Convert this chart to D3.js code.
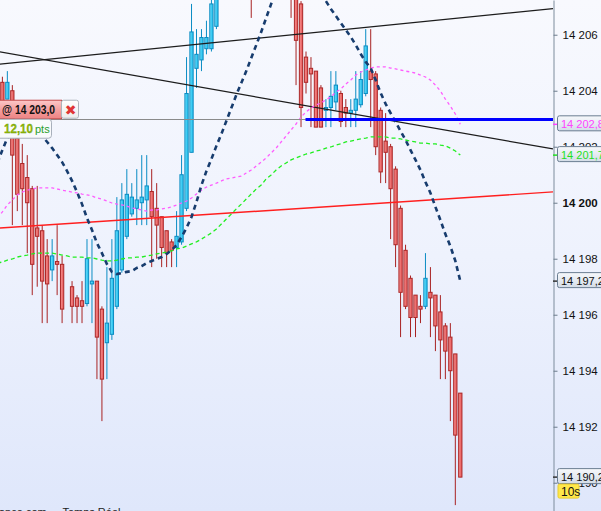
<!DOCTYPE html>
<html lang="fr">
<head>
<meta charset="utf-8">
<title>Graphique 10s</title>
<script src="https://cdn.jsdelivr.net/npm/d3@7"></script>
<style>
  body { margin: 0; overflow: hidden; }
  svg { display: block; font-family: "Liberation Sans", Arial, sans-serif; }
</style>
</head>
<body>
<script>
// Graduations de l'axe des prix
const graduations = [14190, 14192, 14194, 14196, 14198, 14200, 14202, 14204, 14206];

// Bougies 10s (null = pas de bougie)
const ouverture = [14204.7, 14204.3, 14203.7, 14204.0, 14202.3, 14201.4, 14200.9, 14200.5, 14199.1, 14199.0,
  14198.1, 14197.6, 14197.9, 14197.8, null, 14197.0, 14196.6, 14196.5, 14196.4, 14197.1,
  14197.2, 14196.2, 14195.0, 14195.3, 14196.3, 14197.6, 14198.8, 14199.6, 14199.8, 14200.0,
  14200.1, 14200.4, 14199.8, 14199.5, 14199.0, 14198.6, 14198.4, 14198.6, 14199.8, 14201.8,
  14204.8, 14205.1, 14205.5, 14205.5, 14206.3, 14207.4, 14208.4, 14209.2, 14208.8, 14209.9,
  14210.6, 14209.3, 14208.0, 14209.4, 14210.5, 14209.9, 14211.0, 14210.1, 14208.9, 14208.3,
  14207.5, 14207.1, 14205.2, 14204.8, 14204.7, 14204.1, 14203.3, 14203.4, 14203.6, 14203.9,
  14203.4, 14203.2, 14203.3, 14203.5, 14203.9, 14204.7, 14204.6, 14203.3, 14202.2, 14202.0,
  14201.2, 14199.8, 14198.3, 14197.3, 14196.7, 14196.3, 14196.3, 14196.8, 14196.7, 14196.1,
  14195.6, 14195.2, 14194.6, 14193.2];
const plusHaut = [14204.9, 14204.5, 14204.7, 14204.2, 14202.6, 14202.1, 14201.7, 14200.6, 14200.6, 14199.2,
  14198.7, 14198.7, 14199.2, 14198.1, null, 14197.2, 14196.7, 14197.2, 14198.7, 14198.7,
  14197.2, 14196.3, 14197.7, 14198.7, 14200.2, 14200.7, 14201.2, 14200.7, 14201.2, 14201.7,
  14201.7, 14201.2, 14200.7, 14199.5, 14199.0, 14198.7, 14199.7, 14201.7, 14205.2, 14207.1,
  14206.2, 14206.2, 14206.5, 14207.4, 14207.6, 14208.6, 14209.5, 14209.8, 14210.2, 14210.9,
  14211.0, 14209.7, 14209.6, 14210.8, 14211.2, 14211.3, 14211.4, 14210.5, 14209.3, 14208.6,
  14207.8, 14207.2, 14205.4, 14205.2, 14204.7, 14204.2, 14203.7, 14204.7, 14204.7, 14204.0,
  14203.7, 14203.7, 14204.7, 14204.7, 14206.2, 14206.2, 14204.7, 14203.4, 14203.2, 14202.1,
  14201.3, 14199.9, 14198.5, 14197.4, 14196.7, 14196.7, 14198.2, 14197.7, 14196.7, 14196.7,
  14195.7, 14195.7, 14194.6, 14193.2];
const plusBas = [14203.7, 14202.8, 14203.7, 14199.2, 14199.7, 14199.2, 14198.2, 14196.7, 14197.0, 14195.7,
  14195.7, 14197.2, 14196.7, 14195.7, null, 14195.7, 14195.7, 14195.7, 14196.3, 14195.7,
  14193.7, 14192.2, 14193.7, 14195.1, 14196.2, 14197.5, 14198.7, 14199.5, 14199.2, 14199.2,
  14199.2, 14197.7, 14198.0, 14197.7, 14197.7, 14197.7, 14197.7, 14198.5, 14199.7, 14201.8,
  14204.1, 14204.7, 14205.3, 14205.4, 14206.2, 14207.3, 14208.1, 14208.5, 14208.6, 14209.5,
  14208.9, 14206.6, 14207.8, 14209.1, 14209.6, 14209.7, 14209.8, 14208.6, 14207.9, 14206.6,
  14204.2, 14202.7, 14203.9, 14202.7, 14202.7, 14202.7, 14202.7, 14202.7, 14203.3, 14202.7,
  14202.7, 14202.7, 14202.7, 14203.4, 14203.8, 14202.7, 14201.7, 14200.7, 14200.7, 14198.7,
  14197.7, 14195.2, 14196.2, 14195.2, 14195.2, 14195.7, 14196.2, 14195.2, 14194.7, 14193.7,
  14193.7, 14192.2, 14189.2, 14190.2];
const cloture = [14204.0, 14203.0, 14204.3, 14201.7, 14200.3, 14200.5, 14200.0, 14197.8, 14198.8, 14197.2,
  14197.1, 14198.1, 14197.8, 14196.2, null, 14196.3, 14196.3, 14196.3, 14198.0, 14197.2,
  14195.2, 14193.7, 14195.7, 14197.3, 14199.0, 14200.1, 14200.3, 14200.2, 14200.1, 14200.2,
  14200.6, 14199.5, 14199.2, 14198.4, 14198.2, 14198.3, 14198.8, 14201.0, 14203.9, 14206.1,
  14205.3, 14205.9, 14205.9, 14207.1, 14207.4, 14208.4, 14209.2, 14208.8, 14209.9, 14210.6,
  14209.3, 14208.0, 14209.4, 14210.5, 14209.9, 14211.0, 14210.1, 14208.9, 14208.3, 14207.5,
  14205.8, 14203.4, 14204.3, 14204.6, 14202.7, 14202.7, 14203.4, 14203.8, 14204.2, 14202.9,
  14203.2, 14203.3, 14203.7, 14204.4, 14205.6, 14204.4, 14202.0, 14201.1, 14201.8, 14200.5,
  14198.5, 14196.8, 14196.3, 14195.9, 14195.9, 14196.2, 14197.3, 14196.6, 14195.6, 14195.1,
  14194.7, 14194.0, 14191.7, 14190.2];

// Moyennes mobiles
const mmBleue = [14201.42, 14201.88, 14202.31, 14202.63, 14202.81, 14202.92, 14202.88, 14202.78, 14202.60, 14202.38,
  14202.17, 14201.95, 14201.70, 14201.45, 14201.13, 14200.78, 14200.38, 14199.95, 14199.45, 14199.03,
  14198.56, 14198.20, 14197.81, 14197.53, 14197.45, 14197.49, 14197.53, 14197.56, 14197.67, 14197.74,
  14197.85, 14197.92, 14197.99, 14198.06, 14198.17, 14198.31, 14198.49, 14198.78, 14199.10, 14199.49,
  14200.03, 14200.63, 14201.13, 14201.56, 14202.03, 14202.45, 14202.92, 14203.38, 14203.85, 14204.28,
  14204.70, 14205.17, 14205.63, 14206.10, 14206.60, 14207.10, 14207.53, 14207.88, 14208.17, 14208.35,
  14208.45, 14208.45, 14208.35, 14208.17, 14207.88, 14207.53, 14207.20, 14206.92, 14206.67, 14206.42,
  14206.17, 14205.92, 14205.63, 14205.31, 14205.03, 14204.81, 14204.38, 14203.92, 14203.53, 14203.20,
  14202.88, 14202.56, 14202.24, 14201.88, 14201.53, 14201.17, 14200.74, 14200.35, 14199.85, 14199.38,
  14198.88, 14198.45, 14197.92, 14197.20];
const mmRose = [14199.45, 14199.67, 14199.92, 14200.10, 14200.28, 14200.38, 14200.45, 14200.49, 14200.53, 14200.53,
  14200.53, 14200.53, 14200.49, 14200.45, 14200.42, 14200.38, 14200.35, 14200.31, 14200.28, 14200.24,
  14200.17, 14200.13, 14200.06, 14199.99, 14199.95, 14199.92, 14199.88, 14199.81, 14199.78, 14199.74,
  14199.70, 14199.74, 14199.74, 14199.78, 14199.81, 14199.85, 14199.92, 14199.99, 14200.06, 14200.17,
  14200.31, 14200.45, 14200.56, 14200.63, 14200.70, 14200.78, 14200.85, 14200.88, 14200.92, 14200.95,
  14201.06, 14201.17, 14201.31, 14201.45, 14201.60, 14201.78, 14201.95, 14202.17, 14202.38, 14202.60,
  14202.81, 14203.06, 14203.24, 14203.38, 14203.49, 14203.56, 14203.67, 14203.78, 14203.95, 14204.06,
  14204.24, 14204.38, 14204.56, 14204.67, 14204.74, 14204.81, 14204.85, 14204.85, 14204.85, 14204.81,
  14204.78, 14204.74, 14204.70, 14204.67, 14204.63, 14204.56, 14204.49, 14204.38, 14204.20, 14203.99,
  14203.70, 14203.45, 14203.17, 14202.80];
const mmVerte = [14197.85, 14197.88, 14197.95, 14197.99, 14198.06, 14198.10, 14198.13, 14198.17, 14198.20, 14198.20,
  14198.20, 14198.20, 14198.17, 14198.13, 14198.10, 14198.06, 14198.06, 14198.06, 14198.03, 14198.03,
  14197.99, 14197.95, 14197.92, 14197.92, 14197.95, 14197.99, 14198.03, 14198.03, 14198.06, 14198.06,
  14198.10, 14198.13, 14198.17, 14198.20, 14198.24, 14198.28, 14198.35, 14198.38, 14198.45, 14198.53,
  14198.60, 14198.70, 14198.81, 14198.92, 14199.06, 14199.24, 14199.42, 14199.60, 14199.78, 14199.95,
  14200.13, 14200.31, 14200.49, 14200.63, 14200.85, 14200.99, 14201.17, 14201.31, 14201.42, 14201.53,
  14201.60, 14201.67, 14201.74, 14201.78, 14201.85, 14201.88, 14201.95, 14201.99, 14202.06, 14202.10,
  14202.17, 14202.20, 14202.24, 14202.28, 14202.31, 14202.35, 14202.35, 14202.35, 14202.35, 14202.31,
  14202.31, 14202.28, 14202.24, 14202.20, 14202.17, 14202.13, 14202.13, 14202.10, 14202.10, 14202.06,
  14202.03, 14201.95, 14201.85, 14201.70];

// Droites tracees : [indice de bougie, prix]
const droiteNoireHausse = [[0, 14204.94], [93, 14206.60]];
const droiteNoireBaisse = [[0, 14205.40], [93, 14202.50]];
const droiteRouge = [[0, 14199.09], [93, 14200.17]];

// Ordre en cours
const prixOrdre = 14203.0;
const debutLigneBleue = 61.9;
const ecartPoints = 12.10;
const unite = "10s";

const width = 601;
const height = 511;
const axeX = 553;

const fr = d3.formatLocale({ decimal: ",", thousands: " ", grouping: [3], currency: ["", ""] });
const fmtEntier = fr.format(",");
const fmtPrix = fr.format(",.1f");
const fmtPts = fr.format(".2f");

const svg = d3.select("body").append("svg")
    .attr("width", width)
    .attr("height", height);

const defs = svg.append("defs");

function degrade(id, stops, vertical) {
    const g = defs.append("linearGradient").attr("id", id)
        .attr("x1", 0).attr("y1", 0)
        .attr("x2", vertical ? 0 : 1).attr("y2", vertical ? 1 : 0);
    stops.forEach((c, k) => g.append("stop").attr("offset", k / (stops.length - 1)).attr("stop-color", c));
}
degrade("fond", ["#f8f9fe", "#eef2fd", "#dfe7fb"], true);
degrade("rouge", ["#f59a9a", "#ee7070", "#e86060"], false);
degrade("cyan", ["#7fe3fb", "#3fcdf4", "#25bfeb"], false);
degrade("ordre", ["#fcc8c8", "#f4a0a0", "#ee8383"], true);
degrade("boite", ["#f6f8fb", "#e6ebf2", "#d3dce7"], true);
degrade("croix", ["#ffffff", "#ececec"], true);

defs.append("clipPath").attr("id", "zone")
    .append("rect").attr("x", 0).attr("y", 0).attr("width", axeX).attr("height", height);

// Fond
svg.append("rect").attr("width", width).attr("height", height).attr("fill", "url(#fond)");

// Echelles
const x = d3.scaleLinear().domain([0, 93]).range([-2.6, 460.3]);
const y = d3.scaleLinear().domain([14188.99, 14207.24]).range([height, 0]);

const bougies = d3.range(ouverture.length)
    .filter(i => ouverture[i] !== null)
    .map(i => ({ i: i, o: ouverture[i], h: plusHaut[i], l: plusBas[i], c: cloture[i] }));

const plot = svg.append("g").attr("clip-path", "url(#zone)");

// Meches
plot.append("g").selectAll("line")
    .data(bougies)
    .join("line")
    .attr("x1", d => x(d.i)).attr("x2", d => x(d.i))
    .attr("y1", d => y(d.h)).attr("y2", d => y(d.l))
    .attr("stroke", d => d.c >= d.o ? "#0a8cc4" : "#a82222")
    .attr("stroke-width", 1);

// Corps des bougies
plot.append("g").selectAll("rect")
    .data(bougies)
    .join("rect")
    .attr("x", d => x(d.i) - 1.65)
    .attr("width", 3.3)
    .attr("y", d => y(Math.max(d.o, d.c)))
    .attr("height", d => Math.max(1, Math.abs(y(d.o) - y(d.c))))
    .attr("fill", d => d.c >= d.o ? "url(#cyan)" : "url(#rouge)")
    .attr("stroke", d => d.c >= d.o ? "#0c8cc2" : "#ab2626")
    .attr("stroke-width", 1);

// Droites
function prolonge(pts) {
    const pente = (pts[1][1] - pts[0][1]) / (pts[1][0] - pts[0][0]);
    const i0 = x.invert(-2), i1 = x.invert(axeX);
    return [[i0, pts[0][1] + pente * (i0 - pts[0][0])], [i1, pts[0][1] + pente * (i1 - pts[0][0])]];
}
const ligne = d3.line().x(d => x(d[0])).y(d => y(d[1]));

plot.append("path").datum(prolonge(droiteRouge))
    .attr("d", ligne).attr("fill", "none").attr("stroke", "#ff1f1f").attr("stroke-width", 1.4);
plot.append("path").datum(prolonge(droiteNoireHausse))
    .attr("d", ligne).attr("fill", "none").attr("stroke", "#1c1c1c").attr("stroke-width", 1.2);
plot.append("path").datum(prolonge(droiteNoireBaisse))
    .attr("d", ligne).attr("fill", "none").attr("stroke", "#1c1c1c").attr("stroke-width", 1.2);

// Moyennes mobiles
const courbe = d3.line().x((d, i) => x(i)).y(d => y(d));
plot.append("path").datum(mmVerte)
    .attr("d", courbe).attr("fill", "none").attr("stroke", "#22ee22")
    .attr("stroke-width", 1.3).attr("stroke-dasharray", "4,3");
plot.append("path").datum(mmRose)
    .attr("d", courbe).attr("fill", "none").attr("stroke", "#ff5cff")
    .attr("stroke-width", 1.3).attr("stroke-dasharray", "3,3");
plot.append("path").datum(mmBleue)
    .attr("d", courbe).attr("fill", "none").attr("stroke", "#173c6e")
    .attr("stroke-width", 2.6).attr("stroke-dasharray", "5,4");

// Ligne de l'ordre
const yLigne = Math.round(y(prixOrdre)) + 0.5;
plot.append("line")
    .attr("x1", 0).attr("x2", axeX).attr("y1", yLigne).attr("y2", yLigne)
    .attr("stroke", "#8a8a8a").attr("stroke-width", 1);
plot.append("line")
    .attr("x1", x(debutLigneBleue)).attr("x2", axeX).attr("y1", yLigne).attr("y2", yLigne)
    .attr("stroke", "#0000ff").attr("stroke-width", 3);

// Axe des prix
svg.append("g")
    .attr("transform", "translate(" + (axeX + 0.5) + ",0)")
    .call(d3.axisRight(y).tickValues(graduations).tickSize(4).tickSizeOuter(0).tickPadding(5).tickFormat(fmtEntier))
    .call(g => g.select(".domain").attr("stroke", "#7d8c9c"))
    .call(g => g.selectAll(".tick line").attr("stroke", "#6d7c8c"))
    .call(g => g.selectAll(".tick text")
        .attr("font-size", 11.5)
        .attr("font-family", "Liberation Sans, Arial, sans-serif")
        .attr("fill", "#111")
        .attr("font-weight", d => d === 14200 ? "bold" : "normal"));

// Etiquettes de prix sur l'axe
const etiquettes = [
    { prix: mmRose[mmRose.length - 1], couleur: "#ff44ff", trait: "#ff44ff" },
    { prix: mmVerte[mmVerte.length - 1], couleur: "#1fe01f", trait: "#1fe01f" },
    { prix: mmBleue[mmBleue.length - 1], couleur: "#111", trait: "#333" },
    { prix: cloture[cloture.length - 1], couleur: "#111", trait: "#333" }
];
const eg = svg.append("g").selectAll("g").data(etiquettes).join("g")
    .attr("transform", d => "translate(0," + (y(d.prix) - 1) + ")");
eg.append("line")
    .attr("x1", axeX).attr("x2", axeX + 5).attr("y1", 1).attr("y2", 1)
    .attr("stroke", d => d.trait).attr("stroke-width", 1.5);
eg.append("rect")
    .attr("x", axeX + 4.5).attr("y", -7.5).attr("width", 60).attr("height", 15).attr("rx", 2)
    .attr("fill", "url(#boite)").attr("stroke", "#6a7d91");
eg.append("text")
    .attr("x", axeX + 8).attr("y", 4.5)
    .attr("font-size", 11).attr("fill", d => d.couleur)
    .text(d => fmtPrix(d.prix));

// Unite de temps
const yUnite = y(cloture[cloture.length - 1]) + 7;
svg.append("rect")
    .attr("x", axeX + 5).attr("y", yUnite).attr("width", 21).attr("height", 14).attr("rx", 1.5)
    .attr("fill", "#ffe84a").attr("stroke", "#e8cc30");
svg.append("text")
    .attr("x", axeX + 8).attr("y", yUnite + 11.5)
    .attr("font-size", 12).attr("fill", "#111").text(unite);

// Etiquette de l'ordre
const yo = y(prixOrdre);
svg.append("rect")
    .attr("x", -1.5).attr("y", yo - 18.5).attr("width", 63).attr("height", 18.5)
    .attr("fill", "url(#ordre)").attr("stroke", "#c44a4a");
svg.append("text")
    .attr("x", 2).attr("y", yo - 4.5)
    .attr("font-size", 12.5).attr("font-weight", "bold").attr("fill", "#111")
    .attr("textLength", 53).attr("lengthAdjust", "spacingAndGlyphs")
    .text("@ " + fmtPrix(prixOrdre));
svg.append("rect")
    .attr("x", 61.5).attr("y", yo - 18.5).attr("width", 17).attr("height", 18).attr("rx", 2)
    .attr("fill", "url(#croix)").attr("stroke", "#aeb4bc");
svg.append("text")
    .attr("x", 70.5).attr("y", yo - 4).attr("text-anchor", "middle")
    .attr("font-family", "DejaVu Sans, sans-serif")
    .attr("font-size", 14).attr("font-weight", "bold").attr("fill", "#e03535")
    .text("\u2716");

svg.append("rect")
    .attr("x", -4.5).attr("y", yo + 0.5).attr("width", 56).attr("height", 19).attr("rx", 3)
    .attr("fill", "#f9fafc").attr("stroke", "#a8b0bc");
svg.append("text").attr("x", 4).attr("y", yo + 14.5)
    .attr("font-size", 13.5).attr("font-weight", "bold").attr("fill", "#98b800")
    .attr("stroke", "#5c9a10").attr("stroke-width", 0.3)
    .attr("textLength", 29).attr("lengthAdjust", "spacingAndGlyphs")
    .text(fmtPts(ecartPoints));
svg.append("text").attr("x", 35).attr("y", yo + 14.5)
    .attr("font-size", 11).attr("fill", "#2aa02a")
    .text("pts");

// Mention en bas du graphique
svg.append("text")
    .attr("x", -1).attr("y", height + 5)
    .attr("font-size", 11).attr("fill", "#222")
    .attr("xml:space", "preserve")
    .text("ance.com  -  Temps Réel");
</script>
</body>
</html>
